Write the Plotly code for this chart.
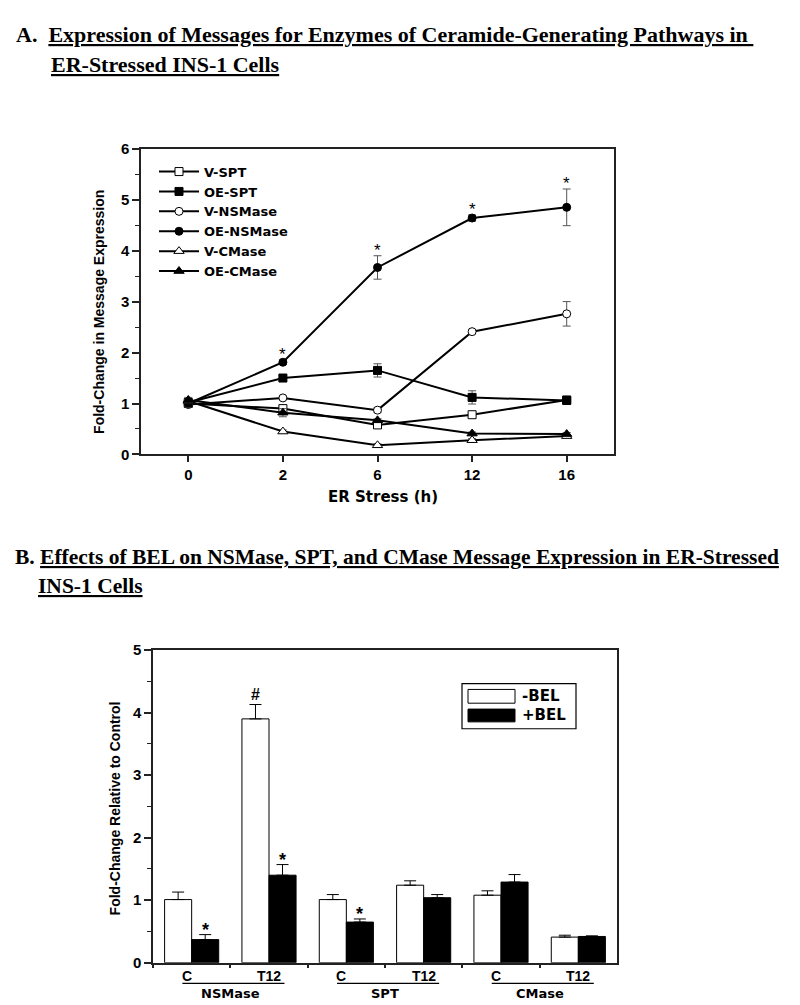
import plotly.graph_objects as go

# ---------------- Panel A data ----------------
hours = ["0", "2", "6", "12", "16"]
v_spt = [1.00, 0.90, 0.58, 0.78, 1.07]
v_spt_err = [0.03, 0.06, 0.04, 0.03, 0.03]
oe_spt = [1.02, 1.50, 1.65, 1.12, 1.06]
oe_spt_err = [0.03, 0.07, 0.13, 0.13, 0.04]
v_nsmase = [0.98, 1.11, 0.87, 2.41, 2.76]
v_nsmase_err = [0.03, 0.03, 0.04, 0.04, 0.24]
oe_nsmase = [1.00, 1.81, 3.67, 4.64, 4.85]
oe_nsmase_err = [0.03, 0.04, 0.23, 0.06, 0.36]
v_cmase = [1.05, 0.45, 0.18, 0.28, 0.36]
v_cmase_err = [0.03, 0.03, 0.03, 0.03, 0.03]
oe_cmase = [1.07, 0.82, 0.67, 0.41, 0.40]
oe_cmase_err = [0.05, 0.08, 0.03, 0.03, 0.03]
oe_nsmase_marks = ["", "*", "*", "*", "*"]

# ---------------- Panel B data ----------------
bar_cats = ["NSMase-C", "NSMase-T12", "SPT-C", "SPT-T12", "CMase-C", "CMase-T12"]
bar_labels = ["C", "T12", "C", "T12", "C", "T12"]
enzymes = ["NSMase", "SPT", "CMase"]
minus_bel = [1.01, 3.90, 1.01, 1.24, 1.08, 0.41]
minus_bel_err = [0.12, 0.23, 0.08, 0.07, 0.07, 0.03]
plus_bel = [0.37, 1.40, 0.65, 1.04, 1.29, 0.42]
plus_bel_err = [0.08, 0.17, 0.05, 0.05, 0.12, 0.01]
minus_marks = ["", "#", "", "", "", ""]
plus_marks = ["*", "*", "*", "", "", ""]

W, H = 800, 1005
FONT = "Liberation Sans, Arial, sans-serif"
WIDE = "DejaVu Sans, Verdana, sans-serif"
SERIF = "Liberation Serif, Times New Roman, serif"
AXC = "#222222"


def px(x):
    return x / W


def py(y):
    return 1 - y / H


fig = go.Figure()

series = [
    ("V-SPT", v_spt, v_spt_err, "square", "white"),
    ("OE-SPT", oe_spt, oe_spt_err, "square", "black"),
    ("V-NSMase", v_nsmase, v_nsmase_err, "circle", "white"),
    ("OE-NSMase", oe_nsmase, oe_nsmase_err, "circle", "black"),
    ("V-CMase", v_cmase, v_cmase_err, "triangle-up", "white"),
    ("OE-CMase", oe_cmase, oe_cmase_err, "triangle-up", "black"),
]
for name, vals, errs, sym, fill in series:
    fig.add_trace(go.Scatter(
        x=hours, y=vals, name=name, mode="lines+markers",
        line=dict(color="black", width=2),
        marker=dict(symbol=sym, size=8 if sym != "triangle-up" else 9,
                    color=fill, line=dict(color="black", width=1)),
        error_y=dict(type="data", array=errs, color="#555555", thickness=1, width=4),
        xaxis="x", yaxis="y", showlegend=True,
    ))

fig.add_trace(go.Bar(
    x=bar_cats, y=minus_bel, name="-BEL",
    marker=dict(color="white", line=dict(color="black", width=1)),
    error_y=dict(type="data", symmetric=False, array=minus_bel_err,
                 arrayminus=[0] * len(minus_bel_err), color="black", thickness=1, width=6),
    xaxis="x2", yaxis="y2", showlegend=False,
))
fig.add_trace(go.Bar(
    x=bar_cats, y=plus_bel, name="+BEL",
    marker=dict(color="black", line=dict(color="black", width=1)),
    error_y=dict(type="data", symmetric=False, array=plus_bel_err,
                 arrayminus=[0] * len(plus_bel_err), color="black", thickness=1, width=6),
    xaxis="x2", yaxis="y2", showlegend=False,
))

annotations = []
shapes = []


def label(x, y, text, size=14, family=FONT, xanchor="center", yanchor="middle", **kw):
    d = dict(x=x, y=y, xref="paper", yref="paper", text=text, showarrow=False,
             xanchor=xanchor, yanchor=yanchor,
             font=dict(family=family, size=size, color="black"))
    d.update(kw)
    return d


# significance marks panel A (x as category index)
for i, (v, e, m) in enumerate(zip(oe_nsmase, oe_nsmase_err, oe_nsmase_marks)):
    if m:
        annotations.append(dict(x=i, y=v + e, xref="x", yref="y", text=m, showarrow=False,
                                xanchor="center", yanchor="bottom", yshift=-6,
                                font=dict(family=FONT, size=17, color="black")))

# significance marks panel B
for i, (v, e, m) in enumerate(zip(minus_bel, minus_bel_err, minus_marks)):
    if m:
        annotations.append(dict(x=i, y=v + e, xref="x2", yref="y2", text="<b>%s</b>" % m,
                                showarrow=False, xanchor="center", yanchor="bottom",
                                xshift=-13.5, yshift=0,
                                font=dict(family=FONT, size=16, color="black")))
for i, (v, e, m) in enumerate(zip(plus_bel, plus_bel_err, plus_marks)):
    if m:
        annotations.append(dict(x=i, y=v + e, xref="x2", yref="y2", text="<b>%s</b>" % m,
                                showarrow=False, xanchor="center", yanchor="bottom",
                                xshift=13.5, yshift=-7,
                                font=dict(family=FONT, size=18, color="black")))

# category labels panel B
for i, lab in enumerate(bar_labels):
    annotations.append(dict(x=i, y=py(976), xref="x2", yref="paper", text="<b>%s</b>" % lab,
                            showarrow=False, xanchor="center", yanchor="middle",
                            xshift=-5 if lab == "C" else 0,
                            font=dict(family=FONT, size=14, color="black")))
for i, enz in enumerate(enzymes):
    shapes.append(dict(type="line", xref="x2", yref="paper", x0=2 * i - 0.12, x1=2 * i + 1.2,
                       y0=py(983), y1=py(983), line=dict(color="black", width=1.2)))
    annotations.append(dict(x=2 * i + 0.5, y=py(993), xref="x2", yref="paper",
                            text="<b>%s</b>" % enz, showarrow=False,
                            xanchor="center", yanchor="middle",
                            font=dict(family=WIDE, size=13, color="black")))

# axis titles
annotations += [
    label(px(91), py(300), "<b>Fold-Change in Message Expression</b>", textangle=-90),
    label(px(375), py(488), "<b>ER Stress (h)</b>", size=15, family=WIDE),
    label(px(107), py(805), "<b>Fold-Change Relative to Control</b>", textangle=-90),
]

# titles
annotations += [
    label(px(6), py(18), "<b>A.  <u>Expression of Messages for Enzymes of Ceramide-Generating Pathways in </u></b>",
          size=22, family=SERIF, xanchor="left"),
    label(px(41), py(48), "<b><u>ER-Stressed INS-1 Cells</u></b>",
          size=22, family=SERIF, xanchor="left"),
    label(px(5), py(549), "<b>B. <u>Effects of BEL on NSMase, SPT, and CMase Message Expression in ER-Stressed</u></b>",
          size=21.5, family=SERIF, xanchor="left"),
    label(px(28), py(579), "<b><u>INS-1 Cells</u></b>",
          size=21.5, family=SERIF, xanchor="left"),
]

# manual legend for panel B
shapes += [
    dict(type="rect", xref="paper", yref="paper", x0=px(454), x1=px(568), y0=py(724), y1=py(678),
         line=dict(color="black", width=1.2), fillcolor="white", layer="above"),
    dict(type="rect", xref="paper", yref="paper", x0=px(460), x1=px(507), y0=py(698), y1=py(684),
         line=dict(color="black", width=1), fillcolor="white", layer="above"),
    dict(type="rect", xref="paper", yref="paper", x0=px(460), x1=px(507), y0=py(717), y1=py(704),
         line=dict(color="black", width=1), fillcolor="black", layer="above"),
]
annotations += [
    label(px(512), py(691), "<b>-BEL</b>", size=15, family=WIDE, xanchor="left"),
    label(px(512), py(710), "<b>+BEL</b>", size=15, family=WIDE, xanchor="left"),
]

tickfont = dict(family=FONT, size=15, color="black", weight="bold")

fig.update_layout(
    width=W, height=H, margin=dict(l=0, r=0, t=0, b=0),
    paper_bgcolor="white", plot_bgcolor="white",
    font=dict(family=FONT, color="black"),
    barmode="group", bargap=0.3, bargroupgap=0,
    xaxis=dict(domain=[px(133), px(606)], anchor="y", type="category", range=[-0.5, 4.5],
               showline=True, mirror=True, linecolor=AXC, linewidth=1.5,
               ticks="outside", ticklen=6, tickcolor=AXC, tickwidth=1.5,
               showgrid=False, zeroline=False, tickfont=tickfont),
    yaxis=dict(domain=[py(445), py(134)], anchor="x", range=[0, 6], dtick=1,
               showline=True, mirror=True, linecolor=AXC, linewidth=1.5,
               ticks="outside", ticklen=7, tickcolor=AXC, tickwidth=1.5,
               minor=dict(dtick=0.5, ticks="outside", ticklen=4, tickcolor=AXC, tickwidth=1),
               showgrid=False, zeroline=False, tickfont=tickfont),
    xaxis2=dict(domain=[px(145), px(609)], anchor="y2", type="category", range=[-0.5, 5.5],
                showline=True, mirror=True, linecolor=AXC, linewidth=1.5,
                ticks="outside", ticklen=4, tickcolor=AXC, tickwidth=1.5, tickson="boundaries",
                showticklabels=False, showgrid=False, zeroline=False),
    yaxis2=dict(domain=[py(962), py(644)], anchor="x2", range=[0, 5], dtick=1,
                showline=True, mirror=True, linecolor=AXC, linewidth=1.5,
                ticks="outside", ticklen=7, tickcolor=AXC, tickwidth=1.5,
                minor=dict(dtick=0.5, ticks="outside", ticklen=4, tickcolor=AXC, tickwidth=1),
                showgrid=False, zeroline=False, tickfont=tickfont),
    legend=dict(x=px(146), y=py(142), xanchor="left", yanchor="top",
                bgcolor="rgba(0,0,0,0)", borderwidth=0,
                font=dict(family=WIDE, size=13, color="black", weight="bold"),
                itemwidth=40, tracegroupgap=0),
    annotations=annotations, shapes=shapes,
)

fig.write_html("out.html")
